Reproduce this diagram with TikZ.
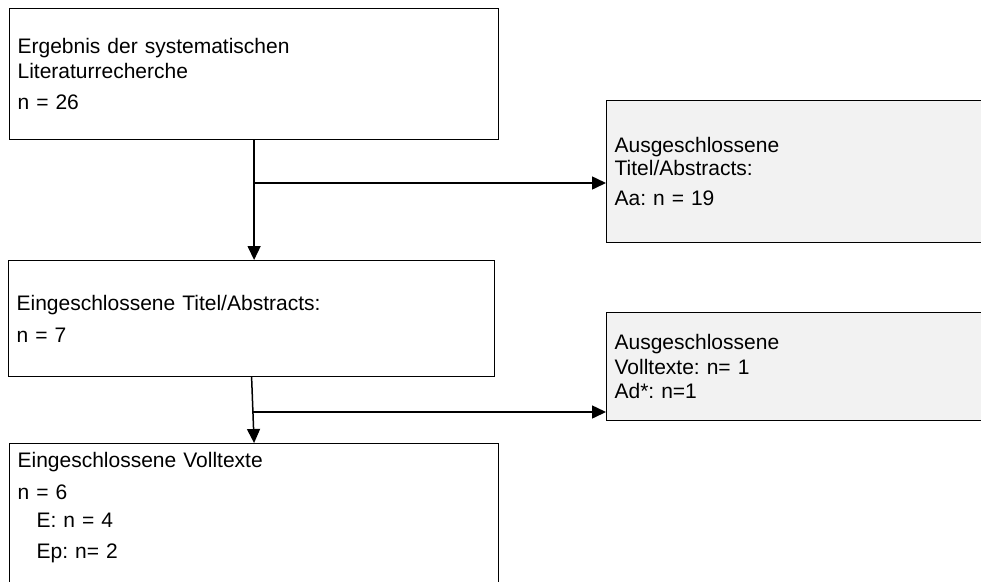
\documentclass[tikz,border=0pt]{standalone}
\usepackage{fontspec}
\setmainfont{Liberation Sans}
\frenchspacing
\usetikzlibrary{arrows.meta, positioning, calc}
\definecolor{boxgray}{HTML}{F2F2F2}

\begin{document}
\begin{tikzpicture}[x=1pt, y=-1pt, box/.style={draw, line width=1.2pt, anchor=north west, align=left, inner xsep=8pt, inner ysep=0pt, font=\fontsize{21}{25}\selectfont}, outbox/.style={box, fill=boxgray, minimum width=420pt, text width=404pt}, ->, >={Triangle[length=14pt,width=13pt]}, line width=1.5pt]
        \clip (0,0) rectangle (981,581);
        \fill[white] (0,0) rectangle (981,581);

        % linke Spalte
        \node[box, minimum width=489pt, minimum height=131pt, text width=473pt] (ergebnis) at (9,8) {Ergebnis der systematischen\\Literaturrecherche\\[6pt]n = 26};
        \node[box, minimum width=486pt, minimum height=116pt, text width=470pt] (eingTitel) at (8,260) {Eingeschlossene Titel/Abstracts:\\[7pt]n = 7};
        \node[box, minimum width=489pt, text width=473pt, inner ysep=9pt] (eingVoll) at (9,443) {Eingeschlossene Volltexte\\[7pt]n = 6\\[3pt]\hspace*{19pt}E: n = 4\\[6pt]\hspace*{19pt}Ep: n= 2\\[40pt]~};

        % rechte Spalte
        \node[outbox, minimum height=142pt] (ausTitel) at (606,100) {Ausgeschlossene\\[-2pt]Titel/Abstracts:\\[5pt]Aa: n = 19};
        \node[outbox, minimum height=108pt] (ausVoll) at (606,312) {Ausgeschlossene\\Volltexte: n= 1\\[-1pt]Ad*: n=1};

        \coordinate (split1) at (254,183);
        \coordinate (split2) at (253,412);

        \draw (ergebnis.south) -- (ergebnis.south |- eingTitel.north);
        \draw (split1) -- (split1 -| ausTitel.west);
        \draw (eingTitel.south) -- (eingVoll.north);
        \draw (split2) -- (split2 -| ausVoll.west);
    \end{tikzpicture}
\end{document}
